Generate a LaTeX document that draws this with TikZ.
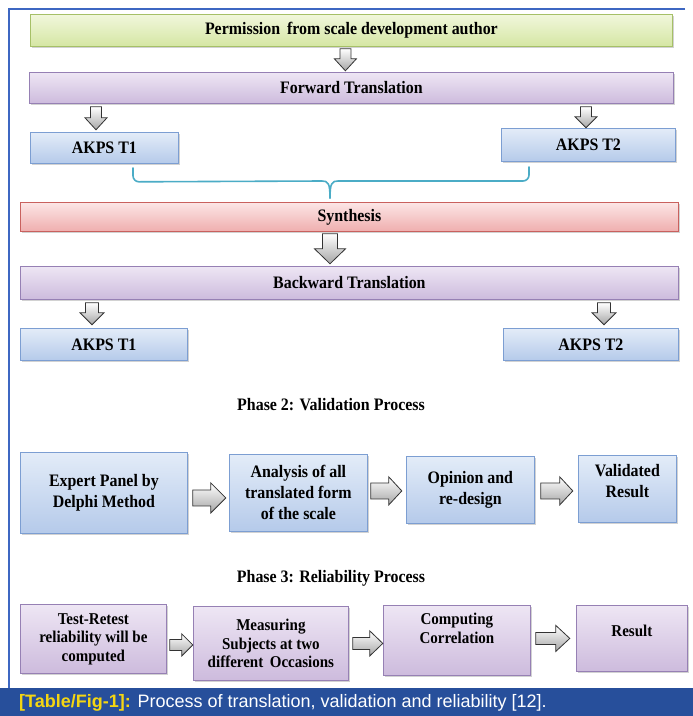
\documentclass[tikz,border=0pt]{standalone}
\usepackage{fontspec}
\setmainfont{Liberation Serif}[FakeStretch=0.91]
\setsansfont{Liberation Sans}
\usetikzlibrary{shadows,calc}
\definecolor{gTop}{HTML}{F1F7DC}\definecolor{gBot}{HTML}{D5E6A3}\definecolor{gLine}{HTML}{A6C067}
\definecolor{pTop}{HTML}{EEE6F4}\definecolor{pBot}{HTML}{CDBBDD}\definecolor{pLine}{HTML}{9680B4}
\definecolor{bTop}{HTML}{E3ECF8}\definecolor{bBot}{HTML}{B5CAEA}\definecolor{bLine}{HTML}{7C9ED2}
\definecolor{rTop}{HTML}{FCE6E6}\definecolor{rBot}{HTML}{EFAEAE}\definecolor{rLine}{HTML}{C9615E}
\definecolor{braceC}{HTML}{4BACC6}
\definecolor{frameC}{HTML}{3D67C2}
\definecolor{capBlue}{HTML}{274F9B}
\definecolor{capYellow}{HTML}{F4D612}
\tikzset{
  box/.style={draw, line width=0.8pt, inner sep=2pt, align=center, anchor=north west,
    font=\bfseries\fontsize{17.5}{21}\selectfont,
    drop shadow={shadow xshift=1.2pt, shadow yshift=-1.6pt, opacity=0.35}},
  greenbox/.style={box, draw=gLine, top color=gTop, bottom color=gBot},
  purplebox/.style={box, draw=pLine, top color=pTop, bottom color=pBot},
  bluebox/.style={box, draw=bLine, top color=bTop, bottom color=bBot},
  redbox/.style={box, draw=rLine, top color=rTop, bottom color=rBot},
  smallbox/.style={font=\bfseries\fontsize{16.5}{18.5}\selectfont},
  garrow/.style={draw=black!80, line width=0.8pt, line join=miter, top color=white, bottom color=black!35},
  pics/downarr/.style n args={4}{code={
    \path[garrow] (-#2/2,0) -- (#2/2,0) -- (#2/2,#1-#4) -- (#3/2,#1-#4) -- (0,#1)
      -- (-#3/2,#1-#4) -- (-#2/2,#1-#4) -- cycle;}},
  pics/rightarr/.style n args={4}{code={
    \path[garrow] (0,-#2/2) -- (#1-#4,-#2/2) -- (#1-#4,-#3/2) -- (#1,0)
      -- (#1-#4,#3/2) -- (#1-#4,#2/2) -- (0,#2/2) -- cycle;}},
  phase/.style={font=\bfseries\fontsize{17.5}{19}\selectfont}
}
\begin{document}
\begin{tikzpicture}[x=1pt,y=-1pt]
\useasboundingbox (0,0) rectangle (693,716);
\fill[white] (0,0) rectangle (693,716);
% frame
\draw[frameC, line width=1.3pt] (685,9) -- (9,9) -- (9,688);
% Phase 1
\node[greenbox, minimum width=642pt, minimum height=32pt] (perm) at (30,14) {Permission\, from scale development author};
\node[purplebox, minimum width=644pt, minimum height=31pt] (fwd) at (29,72) {Forward Translation};
\node[bluebox, minimum width=148pt, minimum height=31pt] (ft1) at (30,132) {AKPS T1};
\node[bluebox, minimum width=174pt, minimum height=33pt] (ft2) at (501,128) {AKPS T2};
\node[redbox, minimum width=658pt, minimum height=29pt] (syn) at (20,202) {Synthesis};
\node[purplebox, minimum width=658pt, minimum height=33pt] (bwd) at (20,266) {Backward Translation};
\node[bluebox, minimum width=167pt, minimum height=32pt] (bt1) at (20,328) {AKPS T1};
\node[bluebox, minimum width=175pt, minimum height=32pt] (bt2) at (503,328) {AKPS T2};
% block arrows phase 1
\pic at ($(perm.south)+(-6,2)$) {downarr={22}{11}{22}{12}};
\pic at ($(fwd.south west)+(67,3)$) {downarr={23}{11}{22}{12}};
\pic at ($(fwd.south west)+(557,3)$) {downarr={21}{11}{22}{11}};
\pic at ($(syn.south west)+(310,2)$) {downarr={30}{15}{31}{15}};
\pic at ($(bwd.south west)+(72,3)$) {downarr={22}{13}{24}{12}};
\pic at ($(bwd.south west)+(584,3)$) {downarr={22}{13}{24}{12}};
% brace
\coordinate (bl) at ($(ft1.south west)+(103,4)$);
\coordinate (br) at (529,167);
\coordinate (btip) at ($(syn.north west)+(310,-4)$);
\draw[braceC, line width=1.6pt, line cap=round, line join=round]
  (bl) -- ++(0,8) arc[start angle=180, end angle=90, radius=6] -- (322,181)
  .. controls (328,181) and (330,183) .. (btip);
\draw[braceC, line width=1.6pt, line cap=round, line join=round]
  (br) -- ++(0,8) arc[start angle=0, end angle=90, radius=6] -- (338,181)
  .. controls (332,181) and (330,183) .. (btip);
% Phase 2
\node[phase] (ph2) at (331,405) {Phase 2: Validation Process};
\node[bluebox, minimum width=167pt, minimum height=81pt] (exp) at (20,452) {Expert Panel by\\Delphi Method};
\node[bluebox, minimum width=138pt, minimum height=77pt] (ana) at (229,454) {Analysis of all\\translated form\\of the scale};
\node[bluebox, minimum width=128pt, minimum height=67pt] (opi) at (406,456) {Opinion and\\re-design};
\node[bluebox, minimum width=98pt, minimum height=67pt] (val) at (578,455) {Validated\\Result\\[-6pt]};
\pic at ($(exp.east)+(5,5)$) {rightarr={33}{16}{30}{15}};
\pic at ($(ana.east)+(3,-2)$) {rightarr={31}{16}{28}{13}};
\pic at ($(opi.east)+(6,1)$) {rightarr={32}{16}{28}{13}};
% Phase 3
\node[phase] (ph3) at (331,578) {Phase 3: Reliability Process};
\node[purplebox, smallbox, minimum width=146pt, minimum height=69pt] (tr) at (20,604) {Test-Retest\\reliability will be\\computed};
\node[purplebox, smallbox, minimum width=155pt, minimum height=74pt] (mea) at (193,606) {Measuring\\Subjects at two\\different\, Occasions};
\node[purplebox, smallbox, minimum width=147pt, minimum height=70pt] (com) at (383,605) {Computing\\Correlation\\[6pt]};
\node[purplebox, smallbox, minimum width=111pt, minimum height=66pt] (res) at (576,605) {Result\\[-4pt]};
\pic at ($(tr.east)+(3,6)$) {rightarr={23}{11}{22}{11}};
\pic at ($(mea.east)+(4,0)$) {rightarr={30}{12}{25}{13}};
\pic at ($(com.east)+(5,-2)$) {rightarr={34}{12}{26}{14}};
% caption
\fill[capBlue] (0,688) rectangle (693,716);
\node[anchor=west, inner sep=0pt, text=white, font=\sffamily\fontsize{18}{20}\selectfont] (cap) at (19,703)
  {\textcolor{capYellow}{\textbf{[Table/Fig-1]:}} Process of translation, validation and reliability [12].};
\end{tikzpicture}
\end{document}
